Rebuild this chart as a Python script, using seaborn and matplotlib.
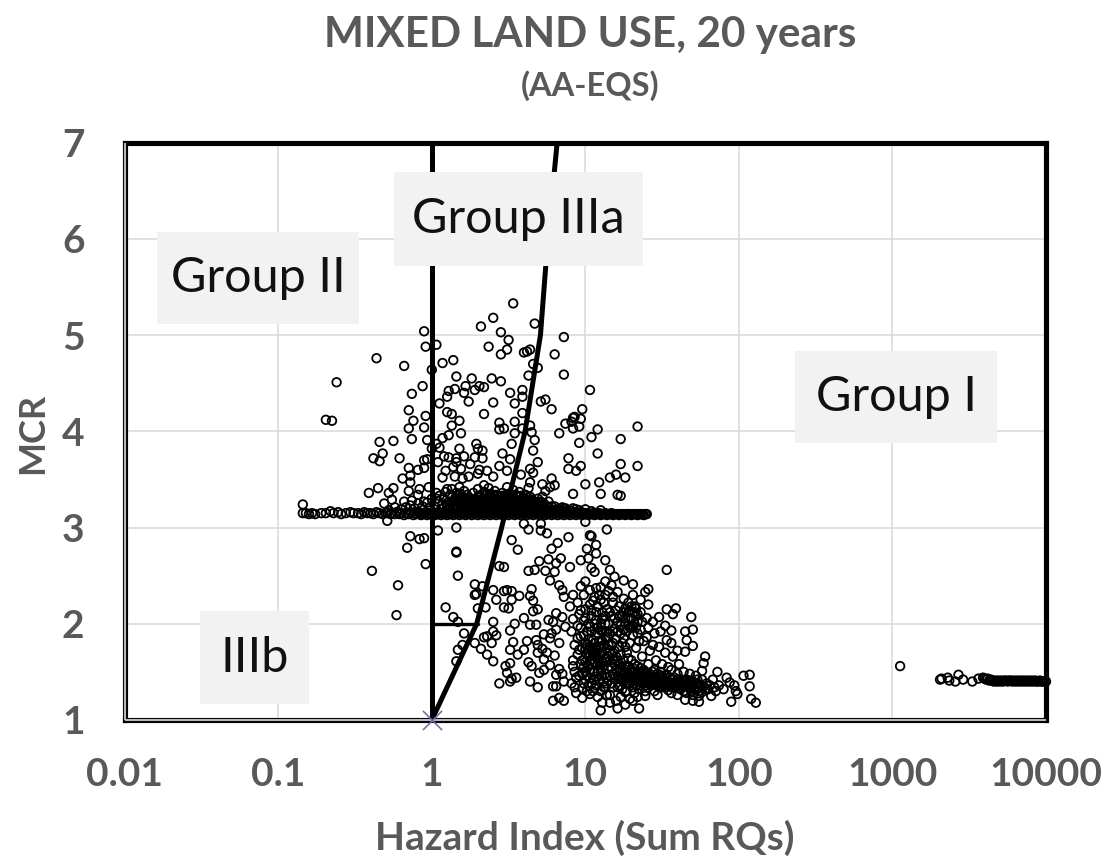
import matplotlib
matplotlib.use("Agg")
import matplotlib.pyplot as plt
from matplotlib.patches import Rectangle
from matplotlib.transforms import Affine2D
import seaborn as sns
import pandas as pd

# (log10 Hazard Index, MCR)
upper_cloud = [(0.53,5.33),(0.40,5.18),(0.32,5.09),(0.45,5.03),(0.50,4.95),(0.67,5.12),(0.86,4.98),(0.37,4.88),(0.49,4.85),(0.45,4.80),
(0.60,4.82),(0.62,4.83),(0.64,4.85),(0.80,4.80),(0.66,4.70),(0.69,4.66),(0.86,4.59),(0.63,4.58),(1.03,4.43),(-0.05,5.04),(0.03,4.90),
(-0.04,4.88),(-0.36,4.76),(-0.18,4.68),(0.07,4.71),(0.14,4.74),(0.00,4.64),(-0.62,4.51),(0.16,4.57),(0.26,4.55),(0.39,4.55),(0.45,4.52),
(-0.06,4.47),(-0.13,4.39),(0.11,4.42),(0.15,4.44),(0.22,4.47),(0.21,4.40),(0.28,4.43),(0.31,4.47),(0.34,4.46),(0.10,4.36),(0.51,4.40),
(0.59,4.43),(0.59,4.36),(0.05,4.29),(0.24,4.31),(0.40,4.30),(0.54,4.29),(0.71,4.31),(0.74,4.33),(0.78,4.23),(-0.15,4.22),(0.10,4.20),
(0.13,4.18),(0.34,4.18),(0.59,4.19),(0.98,4.23),(-0.04,4.16),(-0.12,4.11),(-0.69,4.12),(-0.65,4.11),(0.18,4.11),(0.54,4.10),(0.44,4.09),
(0.93,4.15),(0.92,4.14),(0.97,4.13),(0.91,4.10),(0.87,4.08),(1.34,4.05),(0.13,4.06),(-0.05,4.04),(-0.15,4.03),(0.44,4.02),(0.47,4.03),
(0.59,4.03),(0.64,4.06),(0.92,4.03),(0.96,4.05),(1.08,4.02),(0.19,3.98),(0.54,3.98),(0.65,3.99),(0.83,3.98),(0.11,3.96),(-0.13,3.92),
(0.07,3.93),(-0.03,3.91),(1.04,3.94),(1.23,3.92),(0.67,3.91),(-0.34,3.89),(-0.25,3.90),(0.03,3.87),(0.96,3.88),(0.29,3.87),(0.52,3.87),
(0.05,3.83),(0.18,3.82),(0.30,3.82),(0.00,3.82),(0.66,3.80),(0.33,3.80),(-0.32,3.77),(1.08,3.77),(0.46,3.77),(0.08,3.74),(0.11,3.73),
(0.21,3.74),(0.28,3.73),(0.33,3.72),(-0.38,3.72),(-0.21,3.72),(-0.34,3.69),(0.89,3.72),(-0.05,3.70),(-0.03,3.71),(0.04,3.68),(0.16,3.72),
(0.16,3.68),(0.51,3.71),(0.25,3.66),(0.69,3.68),(1.23,3.66),(1.34,3.64),(-0.15,3.62),(-0.09,3.60),(-0.05,3.62),(0.14,3.63),(0.19,3.61),
(0.44,3.64),(0.64,3.61),(0.89,3.61),(0.97,3.64),(0.94,3.59),(0.09,3.59),(0.31,3.60),(0.36,3.59),(0.49,3.59),(0.58,3.55),(0.66,3.57),
(1.20,3.55),(1.16,3.52),(1.26,3.52),(-0.14,3.54),(-0.19,3.51),(0.07,3.52),(0.15,3.53),(0.20,3.51),(0.24,3.53),(0.30,3.56),(0.40,3.53),
(0.78,3.51),(-0.14,3.47),(0.64,3.47),(0.72,3.45),(0.80,3.44),(1.00,3.45),(1.09,3.47),(0.77,3.42),(-0.35,3.41),(-0.25,3.41),(-0.41,3.36),
(-0.28,3.36),(-0.15,3.38),(-0.08,3.40),(-0.02,3.42),(0.10,3.40),(0.63,3.41),(0.74,3.38),(0.92,3.35),(1.10,3.35),(-0.09,3.34),(0.72,3.32),
(1.21,3.34),(1.23,3.33),(-0.26,3.29),(-0.31,3.25),(-0.84,3.24),(-0.84,3.15),(-0.18,3.27),(-0.13,3.28),(-0.05,3.27),(0.03,3.30),(-0.29,3.07)]

mound = [(0.02,3.22),(0.04,3.27),(0.05,3.33),(0.07,3.24),(0.08,3.30),(0.09,3.37),(0.10,3.21),(0.11,3.27),(0.12,3.34),(0.13,3.40),
(0.14,3.23),(0.15,3.30),(0.16,3.36),(0.17,3.20),(0.18,3.26),(0.18,3.42),(0.19,3.32),(0.20,3.22),(0.21,3.38),(0.22,3.28),(0.23,3.34),
(0.24,3.21),(0.25,3.25),(0.26,3.30),(0.27,3.36),(0.28,3.22),(0.29,3.27),(0.30,3.40),(0.31,3.33),(0.32,3.23),(0.33,3.28),(0.34,3.44),
(0.34,3.37),(0.35,3.21),(0.36,3.31),(0.37,3.26),(0.37,3.41),(0.38,3.35),(0.39,3.22),(0.40,3.29),(0.41,3.38),(0.42,3.24),(0.43,3.33),
(0.44,3.20),(0.45,3.27),(0.46,3.36),(0.47,3.23),(0.48,3.31),(0.49,3.42),(0.50,3.25),(0.50,3.35),(0.51,3.20),(0.52,3.29),(0.53,3.39),
(0.54,3.23),(0.55,3.33),(0.56,3.26),(0.57,3.37),(0.58,3.21),(0.59,3.30),(0.60,3.24),(0.61,3.34),(0.62,3.27),(0.63,3.20),(0.64,3.32),
(0.65,3.24),(0.66,3.28),(0.67,3.21),(0.68,3.26),(0.69,3.30),(0.70,3.23),(0.71,3.27),(0.72,3.20),(0.73,3.25),(0.75,3.22),(0.76,3.27),
(0.78,3.19),(0.80,3.22),(0.82,3.19),(0.85,3.21),(0.88,3.18),(0.92,3.20),(0.96,3.18),(1.00,3.19),(1.04,3.17),(1.10,3.18),(-0.02,3.20),
(-0.03,3.26),(-0.06,3.22),(-0.09,3.25),(-0.11,3.20),(-0.14,3.23),(-0.17,3.21),(-0.20,3.19),(-0.24,3.21),(-0.28,3.18),(0.00,3.30),(0.03,3.36)]

mound_solid = [(0.06,3.19),(0.08,3.21),(0.10,3.24),(0.11,3.19),(0.12,3.22),(0.13,3.26),(0.14,3.19),(0.15,3.24),(0.16,3.28),(0.165,3.33),(0.17,3.22),
(0.175,3.26),(0.18,3.30),(0.185,3.35),(0.19,3.20),(0.195,3.24),(0.20,3.28),(0.205,3.32),(0.21,3.20),(0.215,3.25),(0.22,3.30),(0.23,3.22),(0.235,3.27),
(0.24,3.31),(0.25,3.19),(0.255,3.23),(0.26,3.27),(0.27,3.20),(0.275,3.24),(0.28,3.28),(0.29,3.21),(0.295,3.25),(0.30,3.29),(0.305,3.33),(0.31,3.20),
(0.315,3.24),(0.32,3.28),(0.33,3.20),(0.335,3.24),(0.34,3.29),(0.345,3.33),(0.35,3.25),(0.355,3.28),(0.36,3.35),(0.365,3.20),(0.37,3.24),(0.375,3.29),
(0.38,3.32),(0.385,3.20),(0.39,3.25),(0.395,3.29),(0.40,3.34),(0.405,3.21),(0.41,3.25),(0.415,3.30),(0.42,3.34),(0.425,3.20),(0.43,3.28),(0.435,3.23),
(0.44,3.31),(0.445,3.25),(0.45,3.21),(0.455,3.33),(0.46,3.28),(0.465,3.20),(0.47,3.26),(0.475,3.32),(0.48,3.22),(0.485,3.27),(0.49,3.34),(0.495,3.20),
(0.50,3.29),(0.505,3.24),(0.51,3.33),(0.515,3.26),(0.52,3.21),(0.525,3.31),(0.53,3.26),(0.535,3.20),(0.54,3.30),(0.545,3.34),(0.55,3.24),(0.555,3.28),
(0.56,3.20),(0.565,3.32),(0.57,3.24),(0.575,3.28),(0.58,3.33),(0.585,3.25),(0.59,3.20),(0.595,3.27),(0.60,3.31),(0.605,3.21),(0.61,3.26),(0.615,3.29),
(0.62,3.22),(0.625,3.31),(0.63,3.25),(0.635,3.28),(0.64,3.20),(0.645,3.25),(0.65,3.29),(0.655,3.21),(0.66,3.24),(0.665,3.27),(0.67,3.25),(0.675,3.20),
(0.68,3.23),(0.69,3.21),(0.70,3.26),(0.71,3.21),(0.72,3.24),(0.74,3.19),(0.76,3.21),(0.78,3.22),(0.81,3.18),(0.84,3.19),(0.87,3.20),(0.90,3.18),(0.94,3.19)]

band = [(-0.82,3.15),(-0.80,3.14),(-0.78,3.15),(-0.76,3.14),(-0.72,3.15),(-0.69,3.15),(-0.66,3.17),(-0.64,3.15),(-0.61,3.16),(-0.59,3.14),
(-0.56,3.15),(-0.53,3.16),(-0.51,3.15),(-0.48,3.15),(-0.46,3.14),(-0.44,3.16),(-0.42,3.15),(-0.40,3.15),(-0.38,3.14),(-0.36,3.16),(-0.34,3.15),
(-0.32,3.14),(-0.30,3.15),(-0.29,3.16),(-0.27,3.14),(-0.26,3.15),(-0.24,3.14),(-0.23,3.16),(-0.21,3.14),(-0.20,3.15),(-0.18,3.13),(-0.17,3.15),
(-0.15,3.14),(-0.14,3.16),(-0.12,3.13),(-0.11,3.15),(-0.10,3.14),(-0.09,3.16),(-0.08,3.14),(-0.07,3.13),(-0.06,3.15),(-0.05,3.14),(-0.04,3.16),
(-0.03,3.13),(-0.02,3.15),(-0.01,3.14),
(0.00,3.14),(0.01,3.16),(0.02,3.13),(0.03,3.15),(0.04,3.14),(0.05,3.16),(0.06,3.13),(0.07,3.15),(0.08,3.14),(0.09,3.16),(0.10,3.13),(0.11,3.15),
(0.12,3.14),(0.13,3.16),(0.14,3.13),(0.15,3.15),(0.16,3.14),(0.17,3.16),(0.18,3.13),(0.19,3.15),(0.20,3.14),(0.21,3.16),(0.22,3.13),(0.23,3.15),
(0.24,3.14),(0.25,3.16),(0.26,3.13),(0.27,3.15),(0.28,3.14),(0.29,3.16),(0.30,3.13),(0.31,3.15),(0.32,3.14),(0.33,3.16),(0.34,3.13),(0.35,3.15),
(0.36,3.14),(0.37,3.16),(0.38,3.13),(0.39,3.15),(0.40,3.14),(0.41,3.16),(0.42,3.13),(0.43,3.15),(0.44,3.14),(0.45,3.16),(0.46,3.13),(0.47,3.15),
(0.48,3.14),(0.49,3.16),(0.50,3.13),(0.51,3.15),(0.52,3.14),(0.53,3.16),(0.54,3.13),(0.55,3.15),(0.56,3.14),(0.57,3.16),(0.58,3.13),(0.59,3.15),
(0.60,3.14),(0.61,3.16),(0.62,3.13),(0.63,3.15),(0.64,3.14),(0.65,3.16),(0.66,3.13),(0.67,3.15),(0.68,3.14),(0.69,3.16),(0.70,3.13),(0.71,3.15),
(0.72,3.14),(0.73,3.16),(0.74,3.13),(0.75,3.15),(0.76,3.14),(0.77,3.16),(0.78,3.13),(0.79,3.15),(0.80,3.14),(0.81,3.17),(0.82,3.13),(0.83,3.15),
(0.84,3.14),(0.85,3.17),(0.86,3.13),(0.87,3.15),(0.88,3.14),(0.89,3.16),(0.90,3.13),(0.91,3.15),(0.92,3.14),(0.93,3.16),(0.94,3.13),(0.95,3.15),
(0.96,3.14),(0.97,3.16),(0.98,3.13),(0.99,3.15),(1.00,3.14),(1.01,3.15),(1.02,3.13),(1.03,3.14),(1.04,3.14),(1.05,3.15),(1.06,3.13),(1.07,3.14),
(1.08,3.14),(1.09,3.15),(1.10,3.13),(1.11,3.14),(1.12,3.14),(1.13,3.15),(1.14,3.13),(1.15,3.14),(1.16,3.14),(1.17,3.15),(1.18,3.13),(1.19,3.14),
(1.20,3.14),(1.21,3.14),(1.22,3.13),(1.23,3.14),(1.24,3.14),(1.25,3.14),(1.26,3.13),(1.27,3.14),(1.28,3.14),(1.29,3.14),(1.30,3.13),(1.31,3.14),
(1.32,3.14),(1.33,3.14),(1.34,3.13),(1.35,3.14),(1.36,3.14),(1.37,3.14),(1.38,3.13),(1.39,3.14),(1.40,3.14)]

lower_sparse = [(-0.14,2.91),(-0.08,2.88),(-0.05,2.89),(0.04,2.97),(0.16,3.00),(-0.16,2.79),(0.16,2.75),(0.16,2.74),(-0.39,2.55),(-0.22,2.40),
(-0.04,2.62),(0.17,2.50),(-0.23,2.09),(0.47,2.59),(0.44,2.60),(0.28,2.41),(0.33,2.39),(0.28,2.30),(0.29,2.31),(0.40,2.35),(0.47,2.34),(0.49,2.35),
(0.52,2.34),(0.57,2.29),(0.42,2.25),(0.52,2.25),(0.09,2.17),(0.30,2.16),(0.35,2.17),(0.47,2.17),(0.50,2.16),(0.14,2.07),(0.17,2.02),(0.60,2.06),
(0.40,2.02),(0.54,2.00),(0.21,1.90),(0.40,1.92),(0.51,1.93),(0.42,1.88),(0.34,1.86),(0.36,1.87),(0.28,1.80),(0.39,1.80),(0.53,1.81),(0.20,1.78),
(0.17,1.73),(0.32,1.74),(0.36,1.68),(0.40,1.61),(0.16,1.61),(0.51,1.73),(0.56,1.68),(0.48,1.56),(0.51,1.59),(0.49,1.49),(0.55,1.44),(0.51,1.40),
(0.52,1.43),(0.44,1.38),(0.64,1.40),(0.69,1.34),(0.63,1.60),(0.65,1.56),(0.70,1.49),(0.73,1.52),(0.77,1.57),(0.60,1.73),(0.62,1.82),(0.69,1.78),
(0.69,1.70),(0.73,1.63),(0.79,1.35),(0.79,1.20),(0.81,1.35),(0.83,1.23),(0.86,1.20),(0.81,1.47),(0.80,1.67),(0.52,2.87),(0.56,2.77),(0.60,3.04),
(0.63,2.98),(0.71,3.04),(0.71,2.97),(0.75,2.94),(0.89,2.90),(1.00,3.06),(1.14,2.98),(1.03,2.92),(1.04,2.91),(0.78,2.78),(0.82,2.84),(1.01,2.78),
(1.07,2.82),(1.07,2.73),(1.53,2.56),(0.70,2.65),(0.76,2.67),(0.81,2.63),(0.84,2.68),(0.90,2.59),(0.97,2.66),(1.02,2.68),(1.13,2.66),(0.63,2.55),
(0.67,2.56),(0.74,2.55),(0.80,2.54),(1.04,2.58),(1.06,2.54),(1.16,2.56),(0.77,2.45),(0.83,2.40),(0.85,2.35),(0.86,2.28),(0.65,2.36),(0.64,2.29),
(0.66,2.24),(0.66,2.13),(0.69,2.15),(0.81,2.11),(0.76,2.04),(0.85,2.07),(0.64,1.99),(0.68,1.99),(0.73,1.89),(0.77,1.85),(0.81,1.94),(0.92,2.30),
(0.97,2.39),(1.00,2.44),(1.07,2.37),(1.13,2.44),(1.19,2.49),(1.25,2.45),(1.31,2.41),(1.41,2.36),(1.39,2.33),(1.31,2.30),(1.36,2.25),(1.41,2.20),
(1.59,2.16),(1.53,2.15),(1.57,2.10),(1.69,2.07),(1.70,1.94),(1.65,1.92),(1.56,1.93),(1.66,1.83),(1.70,1.77),(1.65,1.71),(1.78,1.66),(1.77,1.59),
(1.76,1.51),(1.86,1.50),(1.92,1.44),(2.03,1.46),(2.07,1.47),(2.07,1.35),(1.94,1.39),(1.98,1.30),(2.08,1.22),(2.11,1.18),(1.95,1.19),(1.82,1.25),
(1.74,1.19),(1.70,1.20),(1.65,1.21),(1.47,1.26),(1.35,1.12),(1.10,1.10),(1.21,1.12),(1.16,1.18),(1.11,1.18),(1.31,1.20),(1.14,1.26),(1.26,1.29),
(1.39,1.25),(0.98,1.23),(0.87,1.97),(0.75,1.70),(0.68,1.83),(0.72,1.74),(0.83,1.53),(0.85,1.48),(0.86,1.40),(0.78,1.90),(0.79,2.02),(0.83,1.80)]

dense_core = [(0.90,2.18),(0.92,2.05),(0.91,1.92),(0.93,1.78),(0.92,1.62),(0.93,1.50),(0.91,1.38),(0.94,1.28),(0.95,2.22),(0.96,2.10),(0.95,1.98),
(0.97,1.87),(0.96,1.73),(0.97,1.58),(0.96,1.46),(0.98,1.33),(0.99,2.30),(1.00,2.15),(0.99,2.03),(1.01,1.92),(1.00,1.80),(1.01,1.68),(0.99,1.55),
(1.00,1.42),(1.01,1.30),(1.03,2.35),(1.03,2.20),(1.04,2.08),(1.03,1.97),(1.05,1.83),(1.04,1.72),(1.03,1.62),(1.05,1.50),(1.04,1.38),(1.03,1.27),
(1.06,2.28),(1.07,2.12),(1.06,2.00),(1.08,1.90),(1.07,1.76),(1.06,1.66),(1.08,1.57),(1.07,1.45),(1.06,1.33),(1.08,1.24),(1.10,2.38),(1.10,2.25),
(1.11,2.05),(1.10,1.93),(1.11,1.82),(1.09,1.70),(1.11,1.60),(1.10,1.52),(1.12,1.40),(1.10,1.30),(1.13,2.30),(1.14,2.15),(1.13,2.00),(1.15,1.86),
(1.14,1.74),(1.13,1.64),(1.15,1.53),(1.14,1.44),(1.13,1.34),(1.16,1.26),(1.17,2.40),(1.18,2.22),(1.17,2.08),(1.19,1.95),(1.18,1.80),(1.17,1.68),
(1.19,1.58),(1.18,1.48),(1.17,1.38),(1.20,1.20),(1.21,2.33),(1.22,2.18),(1.21,2.02),(1.23,1.90),(1.22,1.76),(1.21,1.62),(1.23,1.52),(1.22,1.43),
(1.21,1.34),(1.23,1.24),(1.25,2.26),(1.25,2.12),(1.26,2.00),(1.25,1.85),(1.27,1.70),(1.26,1.56),(1.25,1.47),(1.27,1.38),(1.26,1.16),(1.28,2.22),
(1.29,2.14),(1.28,2.06),(1.30,1.96),(1.29,1.80),(1.28,1.64),(1.30,1.52),(1.29,1.44),(1.31,1.34),(1.29,1.22),(1.32,2.18),(1.33,2.08),(1.32,2.00),
(1.34,1.90),(1.33,1.75),(1.32,1.58),(1.34,1.50),(1.33,1.42),(1.35,1.32),(1.34,1.24),(1.36,2.12),(1.37,2.02),(1.36,1.94),(1.38,1.82),(1.37,1.66),
(1.36,1.54),(1.38,1.46),(1.37,1.38),(1.39,1.30),(1.40,2.06),(1.41,1.96),(1.40,1.86),(1.42,1.72),(1.41,1.58),(1.40,1.49),(1.42,1.42),(1.41,1.34),
(1.44,2.02),(1.45,1.90),(1.44,1.78),(1.46,1.62),(1.45,1.52),(1.44,1.45),(1.46,1.37),(1.45,1.30),(1.48,2.07),(1.49,1.92),(1.48,1.76),(1.50,1.58),
(1.49,1.50),(1.48,1.42),(1.50,1.34),(1.52,1.98),(1.53,1.83),(1.52,1.70),(1.54,1.55),(1.53,1.47),(1.52,1.39),(1.54,1.31),(1.56,1.80),(1.57,1.66),
(1.56,1.52),(1.58,1.44),(1.57,1.36),(1.56,1.28),(1.60,1.72),(1.61,1.58),(1.60,1.48),(1.62,1.40),(1.61,1.33),(1.60,1.26),(1.64,1.50),(1.65,1.42),
(1.64,1.35),(1.66,1.28),(1.68,1.48),(1.69,1.41),(1.68,1.33),(1.70,1.26),(1.72,1.46),(1.73,1.38),(1.72,1.31),(1.74,1.25),(1.76,1.42),(1.77,1.35),
(1.76,1.29),(1.79,1.38),(1.80,1.32),(1.83,1.42),(1.84,1.34),(1.87,1.36),(1.90,1.32),(1.97,1.36),(1.99,1.27),
(1.02,1.70),(1.03,1.66),(1.05,1.74),(1.06,1.70),(1.08,1.64),(1.09,1.75),(1.12,1.68),(0.98,1.62),(1.00,1.74),(1.24,1.42),(1.26,1.50),(1.28,1.46),
(1.30,1.40),(1.32,1.46),(1.34,1.44),(1.36,1.40),(1.38,1.42),(1.40,1.44),(1.42,1.38),(1.44,1.40),(1.46,1.44),(1.48,1.38),(1.50,1.42),(1.52,1.44),
(1.54,1.40),(1.56,1.42),(1.58,1.38),(1.60,1.42),(1.62,1.36),(1.64,1.40),(1.66,1.38),(1.68,1.40),(1.70,1.36),(1.72,1.38),(1.74,1.34),(1.24,2.08),
(1.26,2.16),(1.28,2.12),(1.30,2.06),(1.32,2.12),(1.34,2.02),(1.31,1.98),(1.33,1.96)]

core_extra = [(0.92,1.56),(0.94,1.44),(0.93,1.34),(0.95,1.68),(0.95,1.85),(0.97,1.96),(0.97,2.14),(0.98,1.75),(0.98,1.48),(0.99,1.38),(0.99,1.88),(1.00,1.60),
(1.00,1.50),(1.00,2.06),(1.01,1.78),(1.01,1.46),(1.02,1.56),(1.02,1.84),(1.02,2.00),(1.02,1.36),(1.03,1.76),(1.03,1.52),(1.03,1.44),(1.04,1.58),
(1.04,1.92),(1.04,2.14),(1.05,1.68),(1.05,1.42),(1.05,1.30),(1.05,2.24),(1.06,1.80),(1.06,1.60),(1.06,1.50),(1.07,1.68),(1.07,1.88),(1.07,2.04),
(1.07,1.36),(1.08,1.72),(1.08,1.50),(1.08,1.96),(1.08,2.18),(1.09,1.62),(1.09,1.82),(1.09,1.42),(1.09,2.30),(1.10,1.76),(1.10,1.58),(1.10,2.00),
(1.11,1.70),(1.11,1.46),(1.11,1.92),(1.11,2.12),(1.12,1.78),(1.12,1.56),(1.12,1.34),(1.12,2.22),(1.13,1.86),(1.13,1.48),(1.13,2.08),(1.14,1.92),
(1.14,1.60),(1.14,1.38),(1.15,1.78),(1.15,1.66),(1.15,2.00),(1.15,2.34),(1.16,1.46),(1.16,1.72),(1.16,1.90),(1.16,2.12),(1.17,1.55),(1.17,1.78),
(1.18,1.62),(1.18,1.92),(1.18,1.34),(1.18,2.28),(1.19,1.72),(1.19,1.44),(1.19,2.06),(1.20,1.52),(1.20,1.84),(1.20,1.66),(1.20,2.14),(1.21,1.46),
(1.21,1.92),(1.22,1.58),(1.22,1.36),(1.22,2.08),(1.23,1.68),(1.23,1.42),(1.23,1.98),(1.24,1.50),(1.24,1.80),(1.24,1.32),(1.25,1.62),(1.25,1.40),
(1.25,1.94),(1.26,1.44),(1.26,1.76),(1.26,2.06),(1.27,1.52),(1.27,1.44),(1.27,1.92),(1.27,1.30),(1.28,1.56),(1.28,1.38),(1.28,1.98),(1.29,1.50),
(1.29,1.38),(1.29,1.96),(1.30,1.46),(1.30,1.62),(1.30,2.18),(1.31,1.42),(1.31,1.54),(1.31,1.88),(1.32,1.38),(1.32,1.50),(1.32,1.28),(1.33,1.46),
(1.33,1.36),(1.33,2.16),(1.34,1.40),(1.34,1.56),(1.34,2.10),(1.35,1.44),(1.35,1.50),(1.35,1.82),(1.36,1.36),(1.36,1.46),(1.37,1.42),(1.37,1.50),
(1.38,1.38),(1.38,1.52),(1.39,1.44),(1.39,1.36),(1.40,1.40),(1.41,1.46),(1.41,1.38),(1.42,1.48),(1.43,1.36),(1.43,1.44),(1.44,1.50),(1.45,1.42),
(1.46,1.40),(1.47,1.36),(1.47,1.48),(1.48,1.34),(1.49,1.44),(1.49,1.38),(1.50,1.46),(1.51,1.36),(1.51,1.42),(1.52,1.34),(1.53,1.40),(1.54,1.36),
(1.55,1.44),(1.55,1.38),(1.56,1.34),(1.57,1.42),(1.58,1.34),(1.59,1.40),(1.60,1.36),(1.61,1.42),(1.62,1.32),(1.63,1.38),(1.64,1.30),(1.65,1.36),
(1.66,1.42),(1.67,1.34),(1.68,1.37),(1.69,1.30),(1.70,1.40),(1.71,1.33),(1.73,1.42),(1.74,1.30),(1.75,1.36),(1.78,1.32),(1.81,1.36),(1.85,1.30)]

far_right = [(3.05,1.56),(3.31,1.42),(3.32,1.43),(3.36,1.44),(3.37,1.41),(3.41,1.40),(3.43,1.47),(3.46,1.42),(3.52,1.40),(3.56,1.43),(3.59,1.44),
(3.60,1.43),(3.61,1.42),(3.62,1.43),(3.63,1.41),(3.64,1.42),(3.65,1.41),(3.66,1.40),(3.67,1.41),(3.68,1.40),(3.69,1.41),(3.70,1.40),(3.71,1.41),
(3.72,1.40),(3.73,1.41),(3.74,1.41),(3.75,1.40),(3.76,1.41),(3.77,1.41),(3.78,1.40),(3.79,1.41),(3.80,1.40),(3.81,1.41),(3.82,1.40),(3.83,1.41),
(3.84,1.40),(3.85,1.41),(3.86,1.40),(3.87,1.41),(3.88,1.40),(3.89,1.41),(3.90,1.40),(3.91,1.41),(3.92,1.40),(3.93,1.41),(3.94,1.40),(3.95,1.40),
(3.96,1.41),(3.97,1.40),(3.98,1.40),(3.99,1.40),(4.00,1.40)]

curve_hi = [1, 1.96, 2.85, 4.05, 5.1, 5.7, 6.55]
curve_mcr = [1, 2, 3, 4, 5, 6, 7]
vertical_hi = [1, 1]
vertical_mcr = [1, 7]
step_hi = [1, 2]
step_mcr = [2, 2]
x_ticks = [0.01, 0.1, 1, 10, 100, 1000, 10000]
x_labels = ["0.01", "0.1", "1", "10", "100", "1000", "10000"]
y_ticks = [1, 2, 3, 4, 5, 6, 7]
group_labels = ["Group II", "Group IIIa", "Group I", "IIIb"]

W, H = 1110, 867
FONT = "Lato"
GREY = "#595959"
sns.set_theme(style="white")
plt.rcParams["font.family"] = [FONT, "DejaVu Sans"]

fig = plt.figure(figsize=(W / 100, H / 100), dpi=100, facecolor="white")
L, R, T, B = 124.7, 1046, 142.7, 720
ax = fig.add_axes([L / W, 1 - B / H, (R - L) / W, (B - T) / H])

rows = upper_cloud + mound + mound_solid + band + lower_sparse + dense_core + core_extra + far_right
points = pd.DataFrame(rows, columns=["log_hi", "mcr"])
points["hi"] = 10 ** points["log_hi"]

ax.set_xscale("log")
ax.set_xlim(0.01, 10000)
ax.set_ylim(1, 7)
ax.set_axisbelow(True)
ax.grid(True, which="major", color="#d9d9d9", lw=1.1)
ax.minorticks_off()

sns.lineplot(x=vertical_hi, y=vertical_mcr, color="black", lw=3.6, ax=ax, zorder=3, estimator=None, sort=False)
sns.lineplot(x=curve_hi, y=curve_mcr, color="black", lw=3.6, ax=ax, zorder=3, estimator=None, sort=False)
sns.lineplot(x=step_hi, y=step_mcr, color="black", lw=2.4, ax=ax, zorder=3, estimator=None, sort=False)
sns.scatterplot(data=points, x="hi", y="mcr", marker="o", s=38, facecolor="none", edgecolor="black",
                linewidth=1.3, ax=ax, zorder=4, clip_on=False, legend=False)
sns.scatterplot(x=[1], y=[1], marker="x", s=190, color="#7a5ea8", linewidth=1.1, ax=ax, zorder=5, clip_on=False, legend=False)

ax.set_xticks(x_ticks)
ax.set_xticklabels(x_labels)
ax.set_yticks(y_ticks)
ax.tick_params(axis="both", length=0, labelsize=28, labelcolor=GREY)
ax.tick_params(axis="x", pad=27)
ax.tick_params(axis="y", pad=29)
for lab in ax.get_xticklabels() + ax.get_yticklabels():
    lab.set_fontweight("bold")
ax.set_xlabel("")
ax.set_ylabel("")

for sp in ax.spines.values():
    sp.set_visible(True)
    sp.set_color("black")
    sp.set_linewidth(3.7)
    sp.set_zorder(3.5)
ax.plot([0, 0], [0, 1], transform=ax.transAxes, color="#b8b8b8", lw=1.5, clip_on=False, zorder=3.6, solid_capstyle="butt")
ax.plot([0, 1], [0, 0], transform=ax.transAxes, color="#b8b8b8", lw=1.5, clip_on=False, zorder=3.6, solid_capstyle="butt")

px = Affine2D().scale(1, -1).translate(0, H)  # picture pixels to display
boxes = [(157, 232, 202, 92), (394, 172, 249, 94), (795, 351, 202, 92), (200, 611, 109, 93)]
for label, (bx, by, bw, bh) in zip(group_labels, boxes):
    ax.add_patch(Rectangle((bx, by), bw, bh, transform=px, facecolor="#f2f2f2", edgecolor="none", zorder=6, clip_on=False))
    ax.text(bx + bw / 2, by + bh / 2, label, transform=px, ha="center", va="center", fontsize=35, color="#111111", zorder=7, family=FONT)

def ftext(x, y, s, **kw):
    fig.text(x / W, 1 - y / H, s, ha="center", va="center", color=GREY, fontweight="bold", **kw)

ftext(590, 35, "MIXED LAND USE, 20 years", fontsize=30.4)
ftext(590, 86, "(AA-EQS)", fontsize=23.5)
ftext(585, 838, "Hazard Index (Sum RQs)", fontsize=28)
ftext(33, 433, "MCR", fontsize=26, rotation=90)

fig.savefig("out.png", dpi=100, facecolor="white")
